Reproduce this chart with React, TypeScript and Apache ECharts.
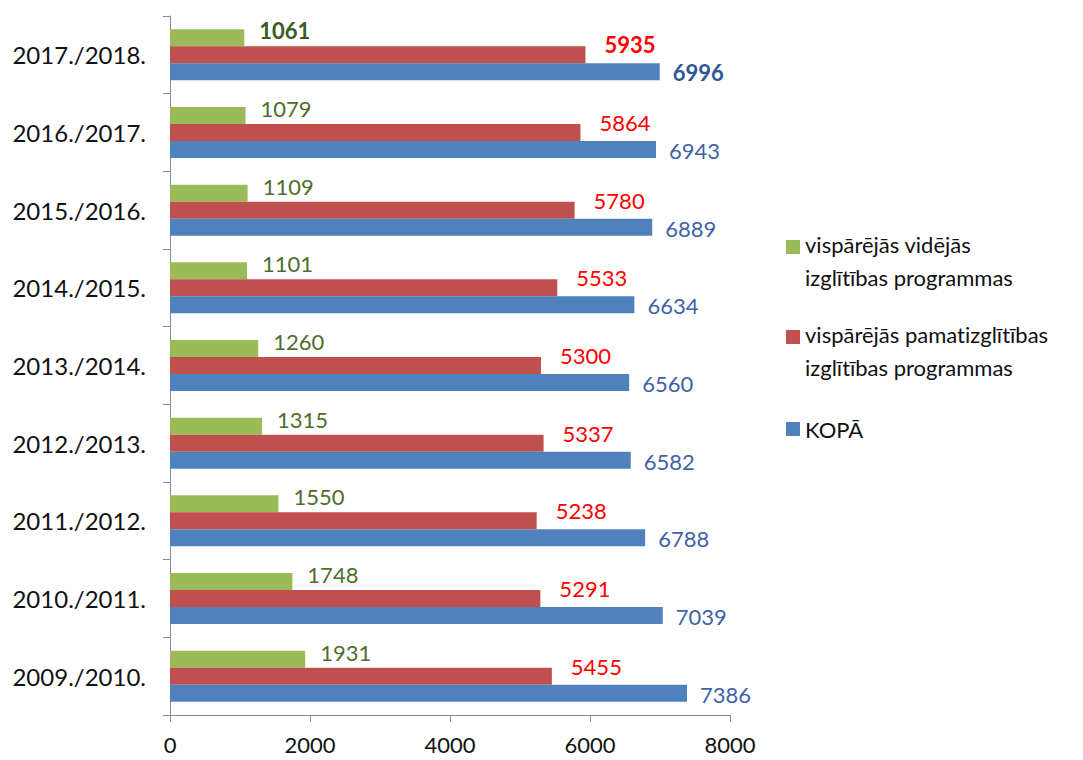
import React, { useEffect, useRef } from "react";
import * as echarts from "echarts";

const categories = [
  "2009./2010.",
  "2010./2011.",
  "2011./2012.",
  "2012./2013.",
  "2013./2014.",
  "2014./2015.",
  "2015./2016.",
  "2016./2017.",
  "2017./2018.",
];
const videjas = [1931, 1748, 1550, 1315, 1260, 1101, 1109, 1079, 1061];
const pamat = [5455, 5291, 5238, 5337, 5300, 5533, 5780, 5864, 5935];
const kopa = [7386, 7039, 6788, 6582, 6560, 6634, 6889, 6943, 6996];
const xTicks = [0, 2000, 4000, 6000, 8000];

const nameVid = "vispārējās vidējās\nizglītības programmas";
const namePamat = "vispārējās pamatizglītības\nizglītības programmas";
const nameKopa = "KOPĀ";

const FONT = "Lato, 'Open Sans', sans-serif";
// square aligned with the first line of a two-line legend label
const ICON_TOP = "path://M0,0h10v10h-10z M0,30h0.01v0.01h-0.01z";
// square centred, same overall box
const ICON_MID = "path://M0,0h0.01v0.01h-0.01z M0,10h10v10h-10z M0,30h0.01v0.01h-0.01z";

function mkData(vals: number[], boldColor: string) {
  return vals.map((v, i) =>
    i === vals.length - 1
      ? { value: v, label: { fontWeight: "bold", color: boldColor } }
      : v
  );
}

export default function App() {
  const ref = useRef<HTMLDivElement>(null);
  useEffect(() => {
    if (!ref.current) return;
    const chart = echarts.init(ref.current, undefined, { renderer: "svg" });
    const labelBase = {
      show: true,
      position: "right",
      fontFamily: FONT,
      fontSize: 22,
    };
    chart.setOption({
      animation: false,
      backgroundColor: "#ffffff",
      grid: { left: 170, right: 353, top: 16, bottom: 45, containLabel: false },
      legend: {
        orient: "vertical",
        left: 781,
        top: 223,
        itemWidth: 14,
        itemHeight: 42,
        itemGap: 24,
        data: [
          { name: nameVid, icon: ICON_TOP },
          { name: namePamat, icon: ICON_TOP },
          { name: nameKopa, icon: ICON_MID },
        ],
        textStyle: {
          fontFamily: FONT,
          fontSize: 22,
          color: "#111",
          lineHeight: 33,
        },
        selectedMode: false,
      },
      xAxis: {
        type: "value",
        min: xTicks[0],
        max: xTicks[xTicks.length - 1],
        interval: 2000,
        axisLine: { show: true, lineStyle: { color: "#8c8c8c", width: 1 } },
        axisTick: { show: true, length: 7, lineStyle: { color: "#8c8c8c" } },
        splitLine: { show: false },
        axisLabel: {
          fontFamily: FONT,
          fontSize: 22,
          color: "#111",
          margin: 18,
          formatter: (v: number) => String(v),
        },
      },
      yAxis: {
        type: "category",
        data: categories,
        axisLine: { show: true, lineStyle: { color: "#8c8c8c", width: 1 } },
        axisTick: { show: true, length: 7, lineStyle: { color: "#8c8c8c" } },
        axisLabel: {
          fontFamily: FONT,
          fontSize: 24,
          color: "#111",
          margin: 24,
        },
      },
      series: [
        {
          name: nameVid,
          type: "bar",
          data: mkData(videjas, "#3d5a1e"),
          itemStyle: { color: "#9bbb59" },
          barWidth: 17,
          barGap: "0%",
          label: {
            ...labelBase,
            color: "#4f6d2a",
            offset: [10, -7],
            formatter: (p: any) => String(p.value),
          },
        },
        {
          name: namePamat,
          type: "bar",
          data: mkData(pamat, "#ff0000"),
          itemStyle: { color: "#c0504d" },
          barWidth: 17,
          barGap: "0%",
          label: {
            ...labelBase,
            color: "#ff0000",
            offset: [14, -10],
            formatter: (p: any) => String(p.value),
          },
        },
        {
          name: nameKopa,
          type: "bar",
          data: mkData(kopa, "#2f5597"),
          itemStyle: { color: "#4f81bd" },
          barWidth: 17,
          barGap: "0%",
          label: {
            ...labelBase,
            color: "#3f62a6",
            offset: [8, 1],
            formatter: (p: any) => String(p.value),
          },
        },
      ],
    });
    return () => chart.dispose();
  }, []);
  return (
    <>
      <style>{"svg text { font-variant-ligatures: none; font-feature-settings: 'liga' 0; }"}</style>
      <div
        ref={ref}
        style={{ position: "absolute", left: 0, top: 0, width: 1083, height: 760 }}
      />
    </>
  );
}
